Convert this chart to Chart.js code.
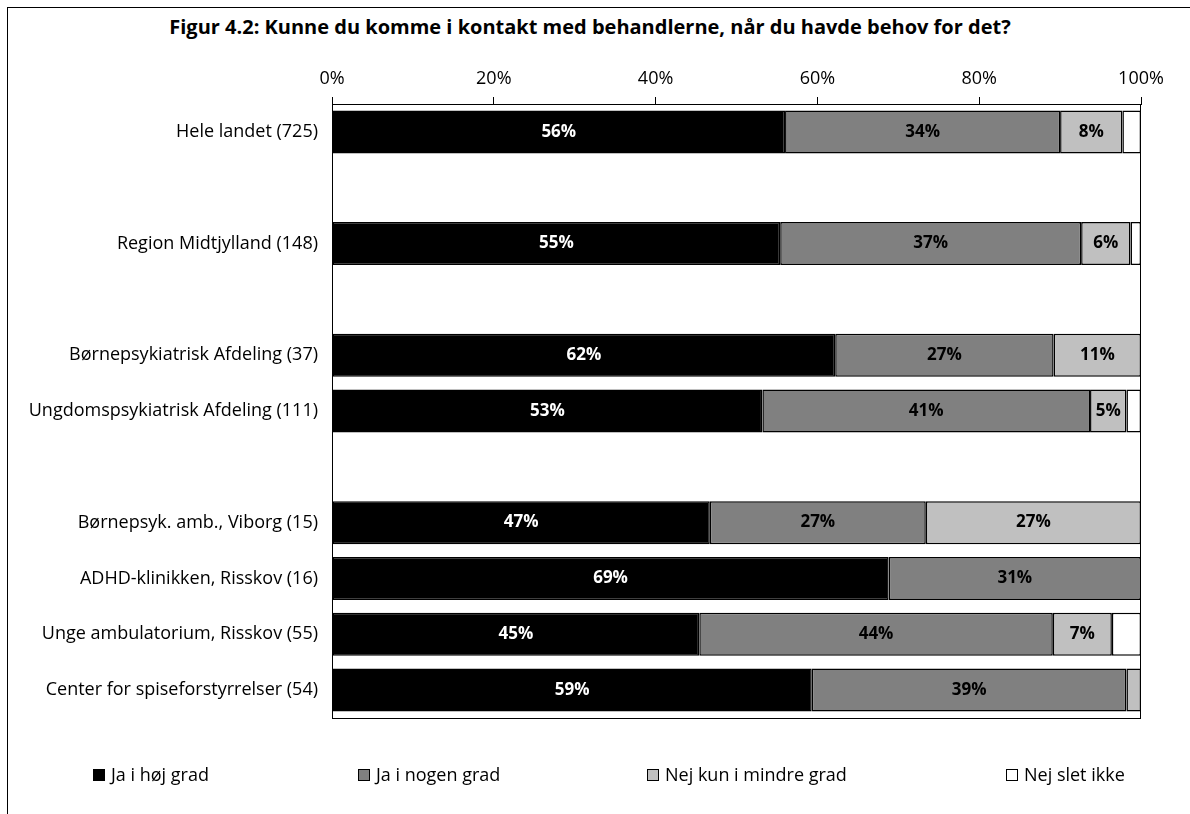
<!DOCTYPE html>
<html>
<head>
<meta charset="utf-8">
<script src="https://cdn.jsdelivr.net/npm/chart.js@4.4.1/dist/chart.umd.min.js"></script>
<style>
  html, body { margin: 0; padding: 0; background: #fff; overflow: hidden; }
  body { width: 1190px; height: 814px; position: relative; font-family: "Open Sans", "DejaVu Sans", sans-serif; }
  .frame { position: absolute; left: 7px; top: 7px; width: 1300px; height: 900px; border-left: 1px solid #000; border-top: 1px solid #000; }
  #title { position: absolute; left: 0; width: 1180px; top: 13px; text-align: center; font-weight: bold; font-size: 20px; color: #000; }
  #wrap { position: absolute; left: 0; top: 0; width: 1190px; height: 814px; }
  #legend { position: absolute; left: 0; top: 762px; width: 1190px; font-size: 18px; color: #000; }
  #legend div { position: absolute; top: 0; white-space: nowrap; }
  #legend span.box { display: inline-block; width: 10px; height: 10px; border: 1px solid #000; margin-right: 6px; vertical-align: 0px; }
</style>
</head>
<body>
<div class="frame"></div>
<div id="title">Figur 4.2: Kunne du komme i kontakt med behandlerne, når du havde behov for det?</div>
<div id="wrap"><canvas id="chart" width="1190" height="814"></canvas></div>
<div id="legend"></div>
<script>
document.addEventListener('DOMContentLoaded', () => {
    // rækker (tomme strenge = mellemrum i figuren)
    const categories = [
        'Hele landet (725)', '',
        'Region Midtjylland (148)', '',
        'Børnepsykiatrisk Afdeling (37)', 'Ungdomspsykiatrisk Afdeling (111)', '',
        'Børnepsyk. amb., Viborg (15)', 'ADHD-klinikken, Risskov (16)',
        'Unge ambulatorium, Risskov (55)', 'Center for spiseforstyrrelser (54)'
    ];
    const seriesNames = ['Ja i høj grad', 'Ja i nogen grad', 'Nej kun i mindre grad', 'Nej slet ikke'];
    const seriesColors = ['#000000', '#808080', '#c0c0c0', '#ffffff'];

    const jaHoej    = [56.0, null, 55.4, null, 62.2, 53.2, null, 46.7, 68.8, 45.4, 59.3];
    const jaNogen   = [34.0, null, 37.2, null, 27.0, 40.5, null, 26.7, 31.2, 43.7, 38.9];
    const nejMindre = [7.7,  null, 6.1,  null, 10.8, 4.5,  null, 26.6, 0,    7.3,  1.8];
    const nejSlet   = [2.3,  null, 1.3,  null, 0,    1.8,  null, 0,    0,    3.6,  0];

    const xTicks = [0, 20, 40, 60, 80, 100];

    const seriesValues = [jaHoej, jaNogen, nejMindre, nejSlet];

    // HTML legend
    const legendX = [93, 358, 647, 1006];
    const legendEl = document.getElementById('legend');
    seriesNames.forEach((name, i) => {
        const item = document.createElement('div');
        item.style.left = legendX[i] + 'px';
        item.innerHTML = `<span class="box" style="background:${seriesColors[i]}"></span>${name}`;
        legendEl.appendChild(item);
    });

    const FONT = '"Open Sans", "DejaVu Sans", sans-serif';

    // ramme om plotområdet
    const plotBox = {
        id: 'plotBox',
        afterDatasetsDraw(chart) {
            const a = chart.chartArea;
            const ctx = chart.ctx;
            ctx.save();
            ctx.strokeStyle = '#000';
            ctx.lineWidth = 1;
            ctx.strokeRect(a.left + 0.5, a.top + 0.5, a.right - a.left - 1, a.bottom - a.top);
            ctx.restore();
        }
    };

    // procenttal inde i søjlerne
    const barLabels = {
        id: 'barLabels',
        afterDatasetsDraw(chart) {
            const ctx = chart.ctx;
            ctx.save();
            ctx.font = 'bold 17px ' + FONT;
            ctx.textAlign = 'center';
            ctx.textBaseline = 'middle';
            chart.data.datasets.forEach((ds, di) => {
                const meta = chart.getDatasetMeta(di);
                meta.data.forEach((bar, i) => {
                    const v = ds.data[i];
                    if (v == null || v < 4) return;
                    ctx.fillStyle = di === 0 ? '#fff' : '#000';
                    const cx = (bar.x + bar.base) / 2;
                    ctx.fillText(Math.round(v) + '%', cx, bar.y);
                });
            });
            ctx.restore();
        }
    };

    new Chart(document.getElementById('chart').getContext('2d'), {
        type: 'bar',
        data: {
            labels: categories,
            datasets: seriesValues.map((vals, i) => ({
                label: seriesNames[i],
                data: vals,
                backgroundColor: seriesColors[i],
                borderColor: '#000',
                borderWidth: 1.5,
                borderSkipped: false,
                categoryPercentage: 1,
                barPercentage: 0.77
            }))
        },
        options: {
            indexAxis: 'y',
            responsive: false,
            animation: false,
            layout: { padding: { left: 0, right: 49, top: 0, bottom: 96 } },
            plugins: {
                legend: { display: false },
                tooltip: { enabled: false },
                title: { display: false }
            },
            scales: {
                x: {
                    position: 'top',
                    stacked: true,
                    min: 0,
                    max: 100,
                    afterBuildTicks: (scale) => { scale.ticks = xTicks.map(v => ({ value: v })); },
                    afterFit: (scale) => { scale.height = 104; },
                    grid: { drawOnChartArea: false, drawTicks: true, tickLength: 7, color: '#000' },
                    border: { display: true, color: '#000' },
                    ticks: {
                        color: '#000',
                        padding: 7,
                        maxRotation: 0,
                        font: { family: FONT, size: 18 },
                        callback: (v) => v + '%'
                    }
                },
                y: {
                    stacked: true,
                    afterFit: (scale) => { scale.width = 332; },
                    grid: { display: false },
                    border: { display: true, color: '#000' },
                    ticks: {
                        color: '#000',
                        padding: 6,
                        autoSkip: false,
                        font: { family: FONT, size: 18 }
                    }
                }
            }
        },
        plugins: [plotBox, barLabels]
    });
});
</script>
</body>
</html>
